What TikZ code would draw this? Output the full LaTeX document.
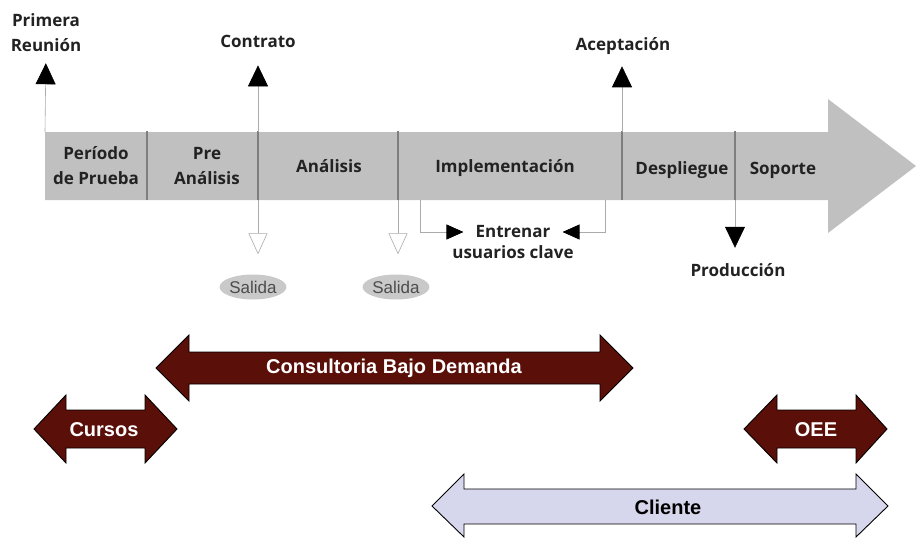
\documentclass[tikz,border=0pt]{standalone}
\usepackage{fontspec}
\setmainfont{Open Sans}
\newfontfamily\arialfont{Liberation Sans}
\usepackage{tikz}
\usetikzlibrary{arrows.meta}
\usetikzlibrary{positioning}
\usetikzlibrary{shapes.geometric}

\definecolor{spinegray}{HTML}{C0C0C0}
\definecolor{sepgray}{HTML}{7F7F7F}
\definecolor{wiregray}{HTML}{ABABAB}
\definecolor{bandred}{HTML}{5A0F08}
\definecolor{bandblue}{HTML}{D6D6EC}
\definecolor{labelink}{HTML}{222222}

\begin{document}
\begin{tikzpicture}[x=1pt,y=-1pt,inner sep=0pt,
  phase/.style={font=\fontsize{17}{25}\selectfont\bfseries,text=labelink,align=center},
  mark label/.style={font=\fontsize{17}{25}\selectfont\bfseries,text=labelink,align=center},
  milestone/.style={draw=wiregray,line width=0.6pt,-{Triangle[width=20pt,length=21pt,black]}},
  exit/.style={draw=wiregray,line width=0.6pt,-{Triangle[open,width=19pt,length=21pt,fill=white]}},
  train/.style={draw=wiregray,line width=0.6pt,-{Triangle[width=15pt,length=17pt,black]}},
  exit node/.style={ellipse,fill=black!21,minimum width=64pt,minimum height=25pt,
    font=\arialfont\fontsize{17}{20}\selectfont,text=black!70},
  band/.style={fill=bandred,draw=black,line width=0.9pt},
  band text/.style={font=\arialfont\fontsize{20}{24}\selectfont\bfseries,text=white}]

  \useasboundingbox (0,0) rectangle (916,538);

  % main time line
  \fill[spinegray] (45,132) -- (828,132) -- (828,99) -- (916,166) -- (828,233)
    -- (828,200) -- (45,200) -- cycle;
  \foreach \x in {147,258,398,622,735}
    \draw[sepgray,line width=1.2pt] (\x,131) -- (\x,200);

  \node[phase] (prueba) at (96,166) {Período\\de Prueba};
  \node[phase] (pre) at (207,166) {Pre\\Análisis};
  \node[phase] (analisis) [anchor=base] at (329,172) {Análisis};
  \node[phase] (impl) [anchor=base] at (505,172) {Implementación};
  \node[phase] (despl) [anchor=base] at (682,174) {Despliegue};
  \node[phase] (soporte) [anchor=base] at (783,174) {Soporte};

  % milestones above
  \coordinate (m1) at (45,132);
  \coordinate (m2) at (258,132);
  \coordinate (m3) at (622,132);
  \node[mark label] (reunion) at (46,33) {Primera\\Reunión};
  \node[mark label] (contrato) [anchor=base] at (258,47) {Contrato};
  \node[mark label] (acept) [anchor=base] at (623,50) {Aceptación};

  \draw[milestone,shorten >=11pt] (m1) -- (reunion.south);
  \draw[milestone,shorten >=18pt] (m2) -- (m2 |- contrato.south);
  \draw[milestone,shorten >=12pt] (m3) -- (m3 |- acept.south);

  % exits below
  \coordinate (s1) at (258,200);
  \coordinate (s2) at (398,200);
  \node[exit node] (salida1) at (253,287) {Salida};
  \node[exit node] (salida2) at (396,287) {Salida};
  \draw[exit,shorten >=20pt] (s1) -- (s1 |- salida1.north);
  \draw[exit,shorten >=20pt] (s2) -- (s2 |- salida2.north);

  % key users
  \coordinate (e1) at (420,200);
  \coordinate (e2) at (605,200);
  \node[mark label] (entrenar) at (513,232) {Entrenar};
  \node[mark label] (usuarios) [below=7pt of entrenar] {usuarios clave};
  \draw[train,shorten >=12pt] (e1) |- (entrenar.west);
  \draw[train,shorten >=12pt] (e2) |- (entrenar.east);

  % production
  \coordinate (p1) at (735,200);
  \node[mark label] (prod) [anchor=base] at (738,276) {Producción};
  \draw[milestone,shorten >=15pt] (p1) -- (p1 |- prod.north);

  % services
  \filldraw[band] (156,368) -- (189,335) -- (189,352) -- (600,352) -- (600,335)
    -- (633,368) -- (600,401) -- (600,384) -- (189,384) -- (189,401) -- cycle;
  \node[band text] (consult) at (394,368) {Consultoria Bajo Demanda};

  \filldraw[band] (34,429) -- (66,395) -- (66,410) -- (145,410) -- (145,395)
    -- (177,429) -- (145,463) -- (145,448) -- (66,448) -- (66,463) -- cycle;
  \node[band text] (cursos) at (104,430) {Cursos};

  \filldraw[band] (744,429) -- (777,395) -- (777,410) -- (856,410) -- (856,395)
    -- (887,429) -- (856,463) -- (856,448) -- (777,448) -- (777,463) -- cycle;
  \node[band text] (oee) at (816,430) {OEE};

  \filldraw[band,fill=bandblue] (432,506) -- (464,474) -- (464,489) -- (856,489)
    -- (856,474) -- (888,506) -- (856,537) -- (856,524) -- (464,524) -- (464,537) -- cycle;
  \node[band text,text=black] (cliente) at (668,507) {Cliente};
\end{tikzpicture}
\end{document}
